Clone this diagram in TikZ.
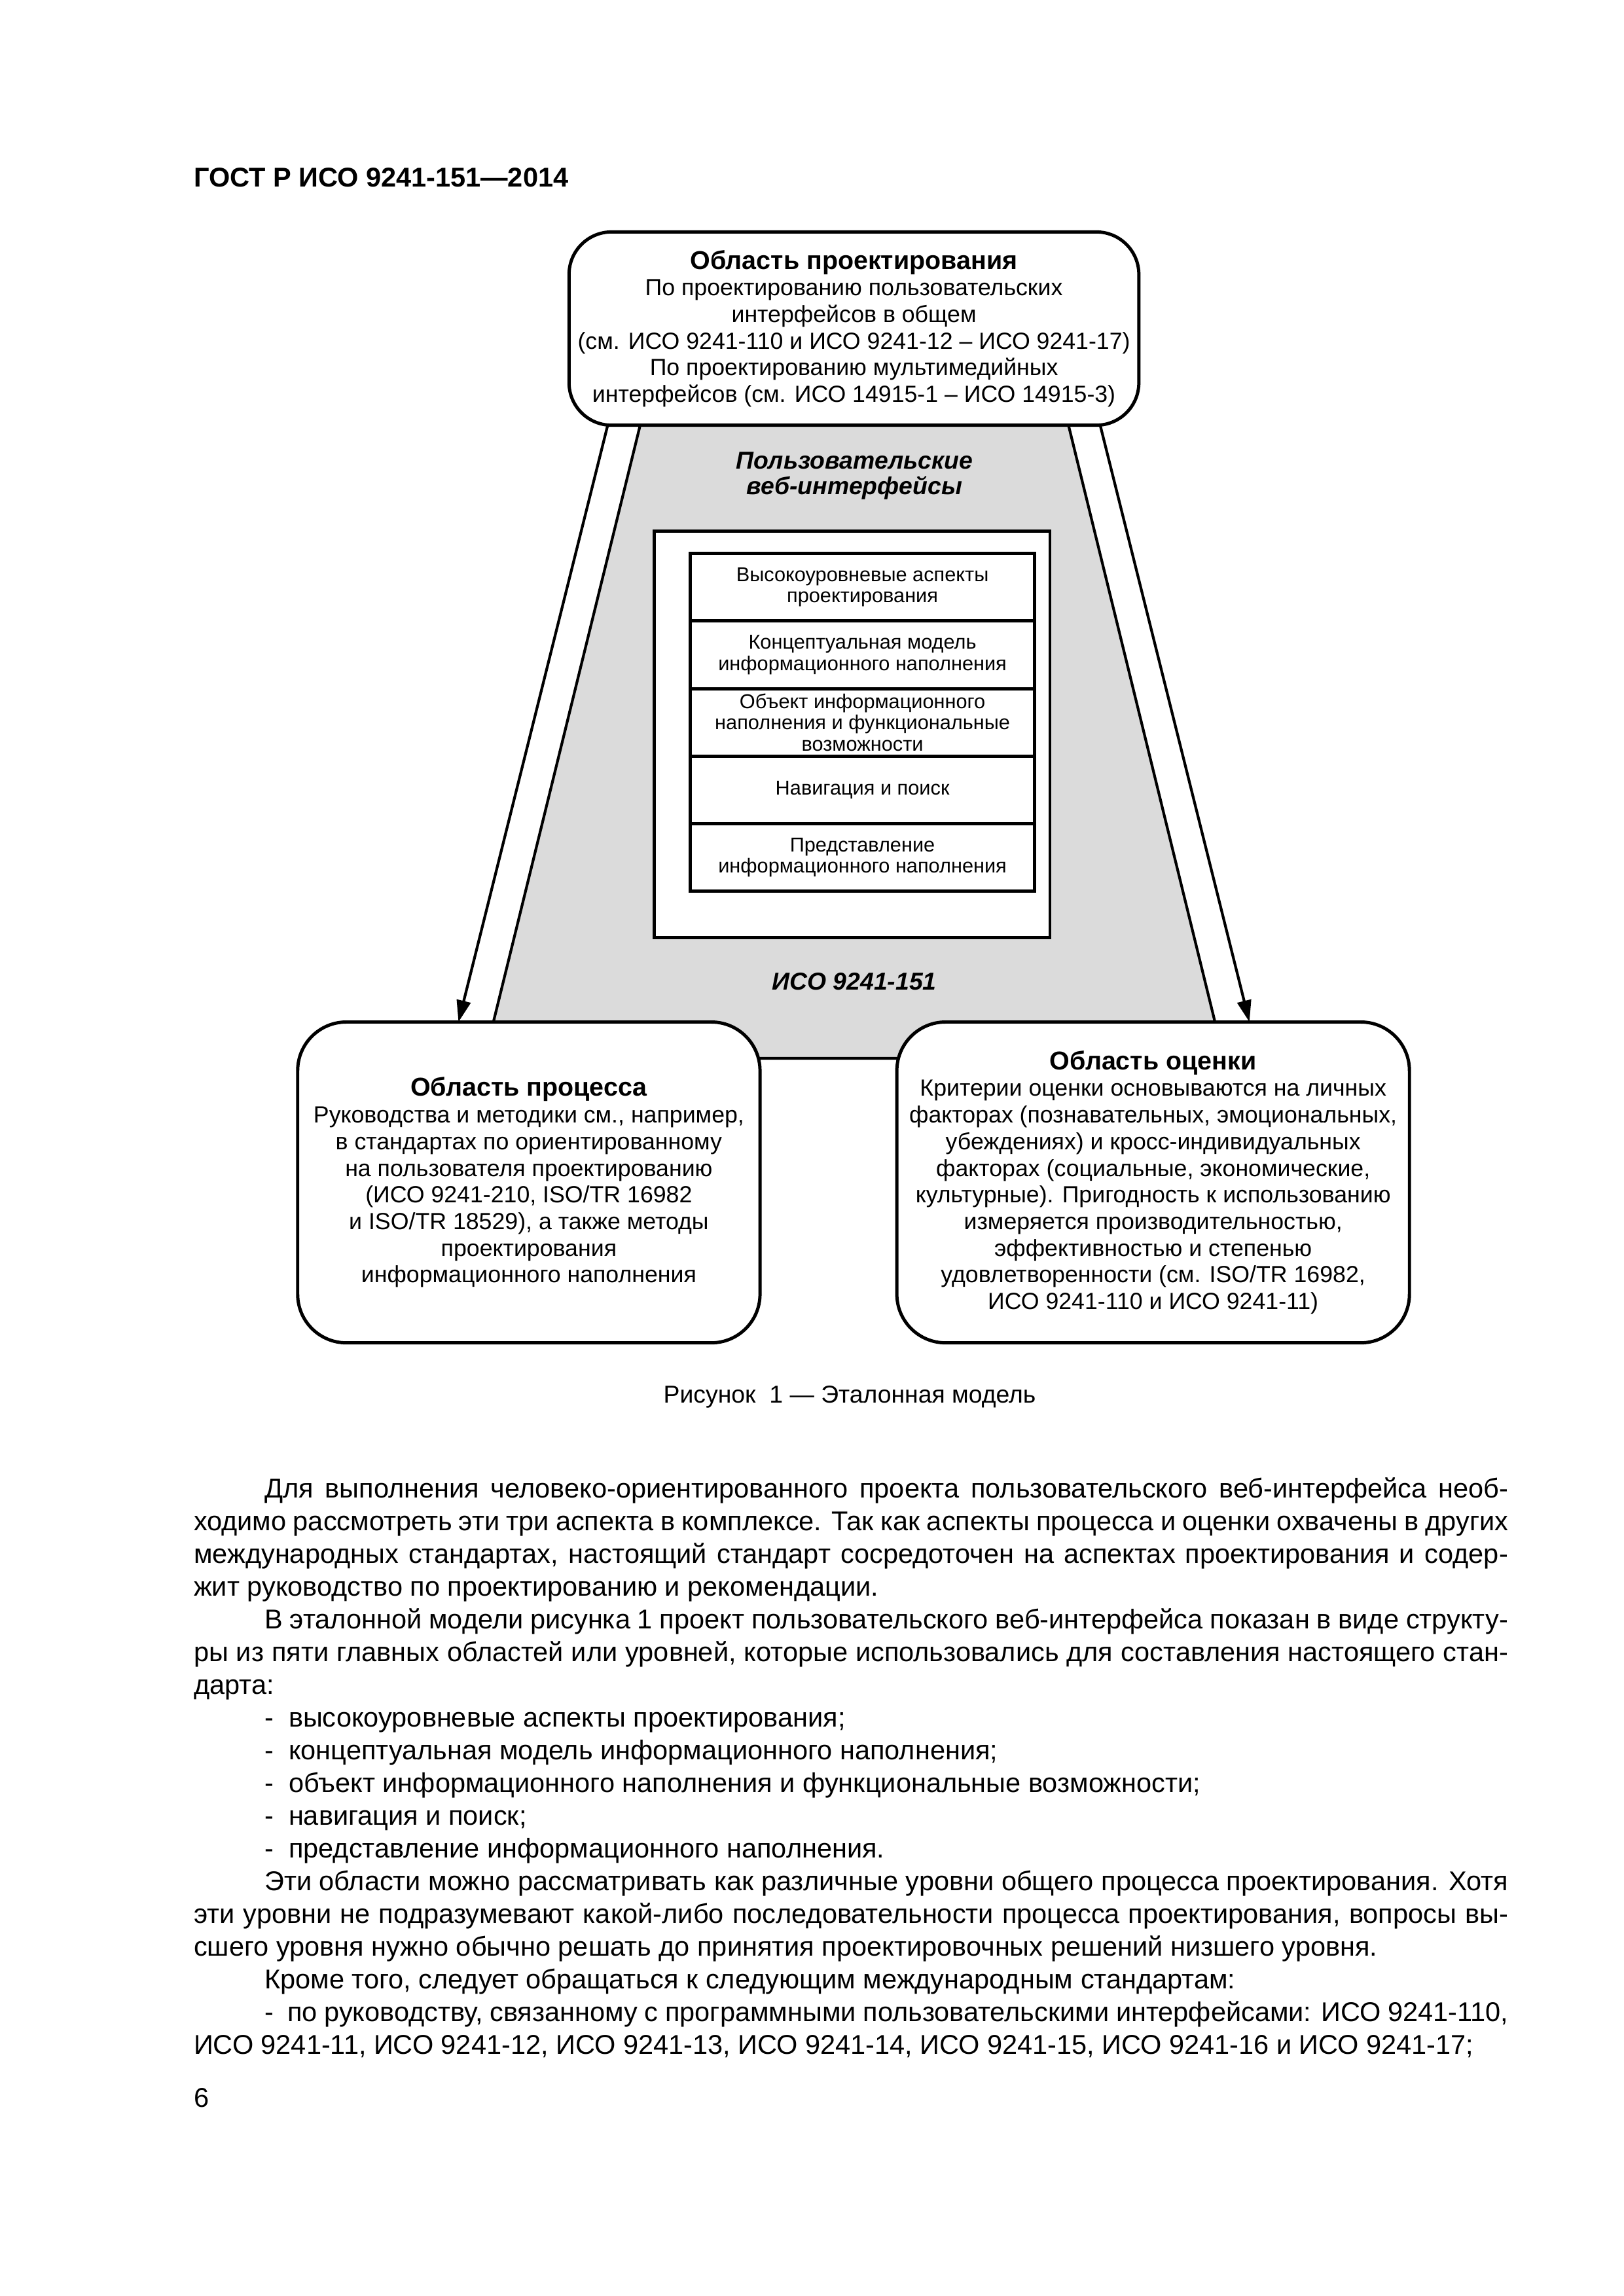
\documentclass[tikz,border=0pt]{standalone}
\usepackage{fontspec}
\setmainfont{Liberation Sans}
\usetikzlibrary{arrows.meta}
\definecolor{greyfill}{gray}{0.86}
\begin{document}
\begin{tikzpicture}[x=1mm,y=1mm,
  roundbox/.style={draw,line width=1.2pt,fill=white,rounded corners=6.3mm,align=center,inner sep=0pt,
    font=\fontsize{8.6}{9.8}\selectfont},
  layer/.style={draw,line width=1.2pt,fill=white,align=center,inner sep=0pt,
    minimum width=44.5mm,minimum height=8.74mm,font=\fontsize{7.4}{7.8}\selectfont},
  lab/.style={align=center,inner sep=0pt,font=\fontsize{9}{9.4}\selectfont\bfseries\itshape},
  flow/.style={line width=1pt,-{Triangle[length=2.8mm,width=1.8mm]}},
  body/.style={anchor=base west,inner sep=0pt,font=\fontsize{10}{12}\selectfont}
]
\useasboundingbox (0,0) rectangle (210,-297);

% header
\node[anchor=base west,inner sep=0pt,font=\fontsize{10}{12}\selectfont\bfseries] (head) at (25,-24.13) {ГОСТ Р ИСО 9241-151—2014};

% grey trapezoid
\fill[greyfill] (82.8,-55) -- (138.2,-55) -- (158.3,-136.9) -- (62.66,-136.9) -- cycle;
\draw[line width=1pt,line join=miter] (82.8,-55) -- (62.66,-136.9) -- (158.3,-136.9) -- (138.2,-55);

% arrows
\coordinate (la) at (78.6,-55);
\coordinate (lb) at (59.3,-132.2);
\coordinate (ra) at (142.3,-55);
\coordinate (rb) at (161.6,-132.2);
\draw[flow] (la) -- (lb);
\draw[flow] (ra) -- (rb);

% top box
\node[roundbox,rounded corners=5.5mm,minimum width=73.7mm,minimum height=25mm] (design) at (110.45,-42.5)
{{\fontsize{9.5}{9.8}\selectfont\bfseries Область проектирования}\\
По проектированию пользовательских\\
интерфейсов в общем\\
(см. ИСО 9241-110 и ИСО 9241-12 – ИСО 9241-17)\\
По проектированию мультимедийных\\
интерфейсов (см. ИСО 14915-1 – ИСО 14915-3)};

% labels in grey area
\node[lab] (web) at (110.5,-61.55) {Пользовательские\\веб-интерфейсы};
\node[lab] (iso) at (110.5,-127.0) {ИСО 9241-151};

% white frame and layers
\node[draw,line width=1.2pt,fill=white,minimum width=51.2mm,minimum height=52.6mm,inner sep=0pt] (frame) at (110.2,-95.0) {};
\node[layer] (r1) at (111.55,-75.97) {Высокоуровневые аспекты\\проектирования};
\node[layer] (r2) at (111.55,-84.71) {Концептуальная модель\\информационного наполнения};
\node[layer] (r3) at (111.55,-93.45) {Объект информационного\\наполнения и функциональные\\возможности};
\node[layer] (r4) at (111.55,-102.19) {Навигация и поиск};
\node[layer] (r5) at (111.55,-110.93) {Представление\\информационного наполнения};

% bottom boxes
\node[roundbox,minimum width=59.8mm,minimum height=41.5mm] (process) at (68.4,-152.95)
{{\fontsize{9.5}{9.8}\selectfont\bfseries Область процесса}\\
Руководства и методики см., например,\\
в стандартах по ориентированному\\
на пользователя проектированию\\
(ИСО 9241-210, ISO/TR 16982\\
и ISO/TR 18529), а также методы\\
проектирования\\
информационного наполнения};

\node[roundbox,minimum width=66.3mm,minimum height=41.5mm] (eval) at (149.15,-152.95)
{{\fontsize{9.5}{9.8}\selectfont\bfseries Область оценки}\\
Критерии оценки основываются на личных\\
факторах (познавательных, эмоциональных,\\
убеждениях) и кросс-индивидуальных\\
факторах (социальные, экономические,\\
культурные). Пригодность к использованию\\
измеряется производительностью,\\
эффективностью и степенью\\
удовлетворенности (см. ISO/TR 16982,\\
ИСО 9241-110 и ИСО 9241-11)};

% caption
\node[anchor=base,inner sep=0pt,font=\fontsize{9}{11}\selectfont] (cap) at (109.9,-181.5) {Рисунок\ \ 1 — Эталонная модель};

% body text
\node[body] (l0) at (34.15,-193.74) {\makebox[160.85mm][s]{Для выполнения человеко-ориентированного проекта пользовательского веб-интерфейса необ-}};
\node[body] (l1) at (25,-197.97) {\makebox[170mm][s]{ходимо рассмотреть эти три аспекта в комплексе. Так как аспекты процесса и оценки охвачены в других}};
\node[body] (l2) at (25,-202.21) {\makebox[170mm][s]{международных стандартах, настоящий стандарт сосредоточен на аспектах проектирования и содер-}};
\node[body] (l3) at (25,-206.44) {жит руководство по проектированию и рекомендации.};
\node[body] (l4) at (34.15,-210.68) {\makebox[160.85mm][s]{В эталонной модели рисунка 1 проект пользовательского веб-интерфейса показан в виде структу-}};
\node[body] (l5) at (25,-214.91) {\makebox[170mm][s]{ры из пяти главных областей или уровней, которые использовались для составления настоящего стан-}};
\node[body] (l6) at (25,-219.14) {дарта:};
\node[body] (l7) at (34.15,-223.38) {-\ \ высокоуровневые аспекты проектирования;};
\node[body] (l8) at (34.15,-227.61) {-\ \ концептуальная модель информационного наполнения;};
\node[body] (l9) at (34.15,-231.85) {-\ \ объект информационного наполнения и функциональные возможности;};
\node[body] (l10) at (34.15,-236.08) {-\ \ навигация и поиск;};
\node[body] (l11) at (34.15,-240.31) {-\ \ представление информационного наполнения.};
\node[body] (l12) at (34.15,-244.55) {\makebox[160.85mm][s]{Эти области можно рассматривать как различные уровни общего процесса проектирования. Хотя}};
\node[body] (l13) at (25,-248.78) {\makebox[170mm][s]{эти уровни не подразумевают какой-либо последовательности процесса проектирования, вопросы вы-}};
\node[body] (l14) at (25,-253.02) {сшего уровня нужно обычно решать до принятия проектировочных решений низшего уровня.};
\node[body] (l15) at (34.15,-257.25) {Кроме того, следует обращаться к следующим международным стандартам:};
\node[body] (l16) at (34.15,-261.48) {\makebox[160.85mm][s]{-\ \ по руководству, связанному с программными пользовательскими интерфейсами: ИСО 9241-110,}};
\node[body] (l17) at (25,-265.72) {ИСО 9241-11, ИСО 9241-12, ИСО 9241-13, ИСО 9241-14, ИСО 9241-15, ИСО 9241-16 и ИСО 9241-17;};

% page number
\node[body] (pg) at (25,-272.6) {6};
\end{tikzpicture}
\end{document}
